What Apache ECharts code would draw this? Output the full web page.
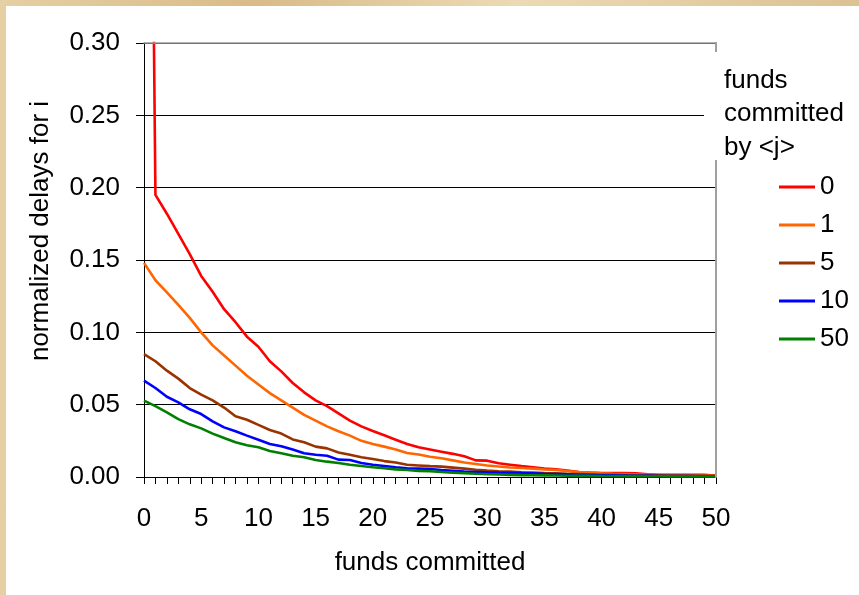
<!DOCTYPE html>
<html>
<head>
<meta charset="utf-8">
<script src="https://cdn.jsdelivr.net/npm/echarts@6/dist/echarts.min.js"></script>
<style>
  html, body { margin: 0; padding: 0; width: 859px; height: 595px; overflow: hidden; }
  body { background: linear-gradient(90deg, #e6cfa3 0%, #d9bb88 30%, #ecdab4 60%, #dcc193 100%); position: relative; }
  #c { position: absolute; left: 6px; top: 6px; width: 853px; height: 589px; background: #fff; }
</style>
</head>
<body>
<div id="c"></div>
<script>
// funds committed (x values)
const fundsCommitted = [0,1,2,3,4,5,6,7,8,9,10,11,12,13,14,15,16,17,18,19,20,21,22,23,24,25,26,27,28,29,30,31,32,33,34,35,36,37,38,39,40,41,42,43,44,45,46,47,48,49,50];
const seriesNames = ['0', '1', '5', '10', '50'];
const xTicks = [0,5,10,15,20,25,30,35,40,45,50];
const yTicks = [0.00,0.05,0.10,0.15,0.20,0.25,0.30];

const delays0 = [1.0,0.195,0.182,0.168,0.154,0.139,0.128,0.116,0.107,0.097,0.090,0.080,0.073,0.065,0.0585,0.053,0.049,0.044,0.039,0.035,0.0318,0.0288,0.0258,0.0228,0.0205,0.019,0.0175,0.016,0.0143,0.0115,0.0113,0.0095,0.0085,0.0075,0.0067,0.0058,0.0053,0.0044,0.0035,0.003,0.0028,0.0027,0.0028,0.0026,0.0018,0.0016,0.0015,0.0015,0.0015,0.0016,0.0008];
const delays1 = [0.148,0.136,0.1276,0.119,0.110,0.100,0.091,0.084,0.077,0.070,0.064,0.058,0.053,0.048,0.043,0.039,0.035,0.0316,0.0286,0.025,0.0228,0.021,0.019,0.0166,0.0155,0.014,0.013,0.0115,0.010,0.009,0.008,0.0073,0.0066,0.0062,0.0058,0.0052,0.0048,0.0042,0.0035,0.003,0.0025,0.0022,0.002,0.0018,0.0015,0.0014,0.0013,0.0012,0.0011,0.001,0.0009];
const delays5 = [0.085,0.080,0.0735,0.068,0.0615,0.057,0.053,0.048,0.042,0.0396,0.036,0.0325,0.030,0.026,0.024,0.021,0.0198,0.017,0.0154,0.0136,0.0124,0.011,0.010,0.0085,0.008,0.0075,0.0072,0.0065,0.0058,0.005,0.0044,0.004,0.0037,0.0033,0.003,0.0027,0.0025,0.0022,0.002,0.0018,0.0016,0.0015,0.0014,0.0013,0.0012,0.0011,0.001,0.001,0.0009,0.0008,0.0008];
const delays10 = [0.0666,0.0615,0.0555,0.0516,0.0468,0.0435,0.0385,0.0343,0.0316,0.0286,0.0258,0.0228,0.0212,0.019,0.0164,0.0154,0.0147,0.012,0.0118,0.0097,0.0085,0.0076,0.0067,0.0060,0.0058,0.0055,0.0048,0.0043,0.0038,0.0035,0.0032,0.003,0.0029,0.0027,0.0025,0.0022,0.002,0.0018,0.0016,0.0014,0.0012,0.0011,0.001,0.0009,0.0008,0.0007,0.0007,0.0006,0.0006,0.0005,0.0005];
const delays50 = [0.0528,0.049,0.0447,0.040,0.0364,0.0336,0.030,0.027,0.024,0.022,0.0205,0.018,0.0164,0.0147,0.0136,0.0118,0.0106,0.0097,0.0085,0.0076,0.0067,0.006,0.0053,0.0048,0.0042,0.004,0.0035,0.003,0.0026,0.0022,0.0019,0.0017,0.0015,0.0013,0.0012,0.0011,0.001,0.0009,0.0008,0.0008,0.0007,0.0007,0.0006,0.0006,0.0005,0.0005,0.0004,0.0004,0.0004,0.0003,0.0003];

const allDelays = [delays0, delays1, delays5, delays10, delays50];
const colors = ['#ff0000', '#ff6600', '#993300', '#0000ff', '#008000'];
const FONT = '"Liberation Sans", Arial, sans-serif';

const chart = echarts.init(document.getElementById('c'), null, { renderer: 'canvas' });

const series = seriesNames.map((name, i) => ({
  name: name,
  type: 'line',
  xAxisIndex: 0,
  yAxisIndex: 0,
  data: fundsCommitted.map((x, k) => [x, allDelays[i][k]]),
  symbol: 'none',
  color: colors[i],
  lineStyle: { width: 2.6, color: colors[i] },
  clip: true,
  animation: false
}));

const option = {
  animation: false,
  textStyle: { fontFamily: FONT },
  grid: { left: 138, top: 37, width: 572, height: 434, containLabel: false },
  xAxis: [
    {
      type: 'value', min: xTicks[0], max: xTicks[xTicks.length - 1], interval: 5,
      axisLine: { show: true, onZero: false, lineStyle: { color: '#000', width: 1 } },
      axisTick: { show: true, inside: false, length: 7, lineStyle: { color: '#000' } },
      minorTick: { show: true, splitNumber: 5, length: 7, lineStyle: { color: '#000' } },
      axisLabel: { fontSize: 26, color: '#000', margin: 29, fontFamily: FONT },
      splitLine: { show: false }
    },
    {
      type: 'value', position: 'top', min: xTicks[0], max: xTicks[xTicks.length - 1], z: 5,
      axisLine: { show: true, onZero: false, lineStyle: { color: '#9a9a9a', width: 1.5 } },
      axisTick: { show: false }, axisLabel: { show: false }, splitLine: { show: false }
    }
  ],
  yAxis: [
    {
      type: 'value', min: yTicks[0], max: yTicks[yTicks.length - 1], interval: 0.05,
      axisLine: { show: true, onZero: false, lineStyle: { color: '#000', width: 1 } },
      axisTick: { show: true, inside: false, length: 8, lineStyle: { color: '#000' } },
      axisLabel: { fontSize: 26, color: '#000', margin: 24, fontFamily: FONT, formatter: v => v.toFixed(2) },
      splitLine: { show: true, lineStyle: { color: '#000', width: 1 } }
    },
    {
      type: 'value', position: 'right', min: yTicks[0], max: yTicks[yTicks.length - 1], z: 5,
      axisLine: { show: true, onZero: false, lineStyle: { color: '#a0a0a0', width: 2 } },
      axisTick: { show: false }, axisLabel: { show: false }, splitLine: { show: false }
    }
  ],
  legend: {
    data: seriesNames,
    orient: 'vertical',
    left: 773, top: 168,
    padding: 0,
    itemWidth: 36, itemHeight: 3, itemGap: 12,
    icon: 'rect',
    textStyle: { fontSize: 26, lineHeight: 26, color: '#000', fontFamily: FONT, padding: [0,0,0,0] },
    z: 120
  },
  graphic: [
    { type: 'rect', shape: { x: 698, y: 46, width: 155, height: 108 }, style: { fill: '#fff' }, z: 100, silent: true },
    { type: 'text', x: 718, y: 75, style: { text: 'funds', font: '26px ' + FONT, fill: '#000', textAlign: 'left', textVerticalAlign: 'middle' }, z: 110 },
    { type: 'text', x: 718, y: 108, style: { text: 'committed', font: '26px ' + FONT, fill: '#000', textAlign: 'left', textVerticalAlign: 'middle' }, z: 110 },
    { type: 'text', x: 718, y: 142, style: { text: 'by <j>', font: '26px ' + FONT, fill: '#000', textAlign: 'left', textVerticalAlign: 'middle' }, z: 110 },
    { type: 'text', x: 35, y: 225, rotation: Math.PI / 2, style: { text: 'normalized delays for i', font: '26px ' + FONT, fill: '#000', textAlign: 'center', textVerticalAlign: 'middle' }, z: 110 },
    { type: 'text', x: 424, y: 557, style: { text: 'funds committed', font: '26px ' + FONT, fill: '#000', textAlign: 'center', textVerticalAlign: 'middle' }, z: 110 }
  ],
  series: series
};

chart.setOption(option);
</script>
</body>
</html>
